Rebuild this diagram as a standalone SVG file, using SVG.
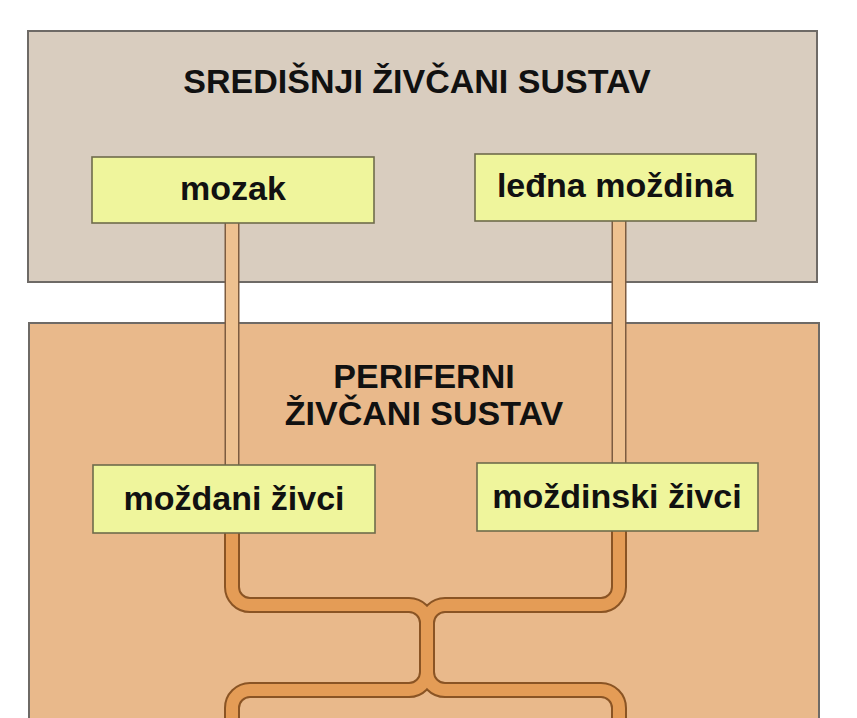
<svg xmlns="http://www.w3.org/2000/svg" width="857" height="718" viewBox="0 0 857 718">
<style>
.big{stroke:#6e6a66;stroke-width:2}
.node{fill:#eff59c;stroke:#6f6c4c;stroke-width:1.6}
.t{font-family:"Liberation Sans",Arial,sans-serif;font-weight:bold;font-size:34px;fill:#111;text-anchor:middle}
.upO{fill:none;stroke:#7d5c40;stroke-width:15}
.upI{fill:none;stroke:#eec190;stroke-width:12}
.loO{fill:none;stroke:#8a5424;stroke-width:16}
.loI{fill:none;stroke:#e49c56;stroke-width:12}
</style>
<rect width="857" height="718" fill="#ffffff"/>
<g id="sredisnji">
<rect class="big" x="28" y="31" width="789" height="251" fill="#d9cdbf"/>
<text class="t" x="417" y="93">SREDIŠNJI ŽIVČANI SUSTAV</text>
</g>
<g id="periferni">
<rect class="big" x="29" y="323" width="790" height="400" fill="#e9b98b"/>
<text class="t" x="424" y="388">PERIFERNI</text>
<text class="t" x="424" y="425">ŽIVČANI SUSTAV</text>
</g>
<g id="connectors">
<path class="upO" d="M232 223V465M619 221V463"/>
<path class="upI" d="M232 223V465M619 221V463"/>
<path class="loO" d="M232 533V587A18 18 0 0 0 250 605H409A18 18 0 0 1 427 623V672A18 18 0 0 1 409 690H250A18 18 0 0 0 232 708V725M619 531V587A18 18 0 0 1 601 605H445A18 18 0 0 0 427 623V672A18 18 0 0 0 445 690H601A18 18 0 0 1 619 708V725"/>
<path class="loI" d="M232 533V587A18 18 0 0 0 250 605H409A18 18 0 0 1 427 623V672A18 18 0 0 1 409 690H250A18 18 0 0 0 232 708V725M619 531V587A18 18 0 0 1 601 605H445A18 18 0 0 0 427 623V672A18 18 0 0 0 445 690H601A18 18 0 0 1 619 708V725"/>
</g>
<g id="mozak">
<rect class="node" x="92" y="157" width="282" height="66"/>
<text class="t" x="233" y="200">mozak</text>
</g>
<g id="ledna-mozdina">
<rect class="node" x="475" y="154" width="281" height="67"/>
<text class="t" x="615" y="197">leđna moždina</text>
</g>
<g id="mozdani-zivci">
<rect class="node" x="93" y="465" width="282" height="68"/>
<text class="t" x="234" y="510">moždani živci</text>
</g>
<g id="mozdinski-zivci">
<rect class="node" x="477" y="463" width="281" height="68"/>
<text class="t" x="617" y="508">moždinski živci</text>
</g>
</svg>
